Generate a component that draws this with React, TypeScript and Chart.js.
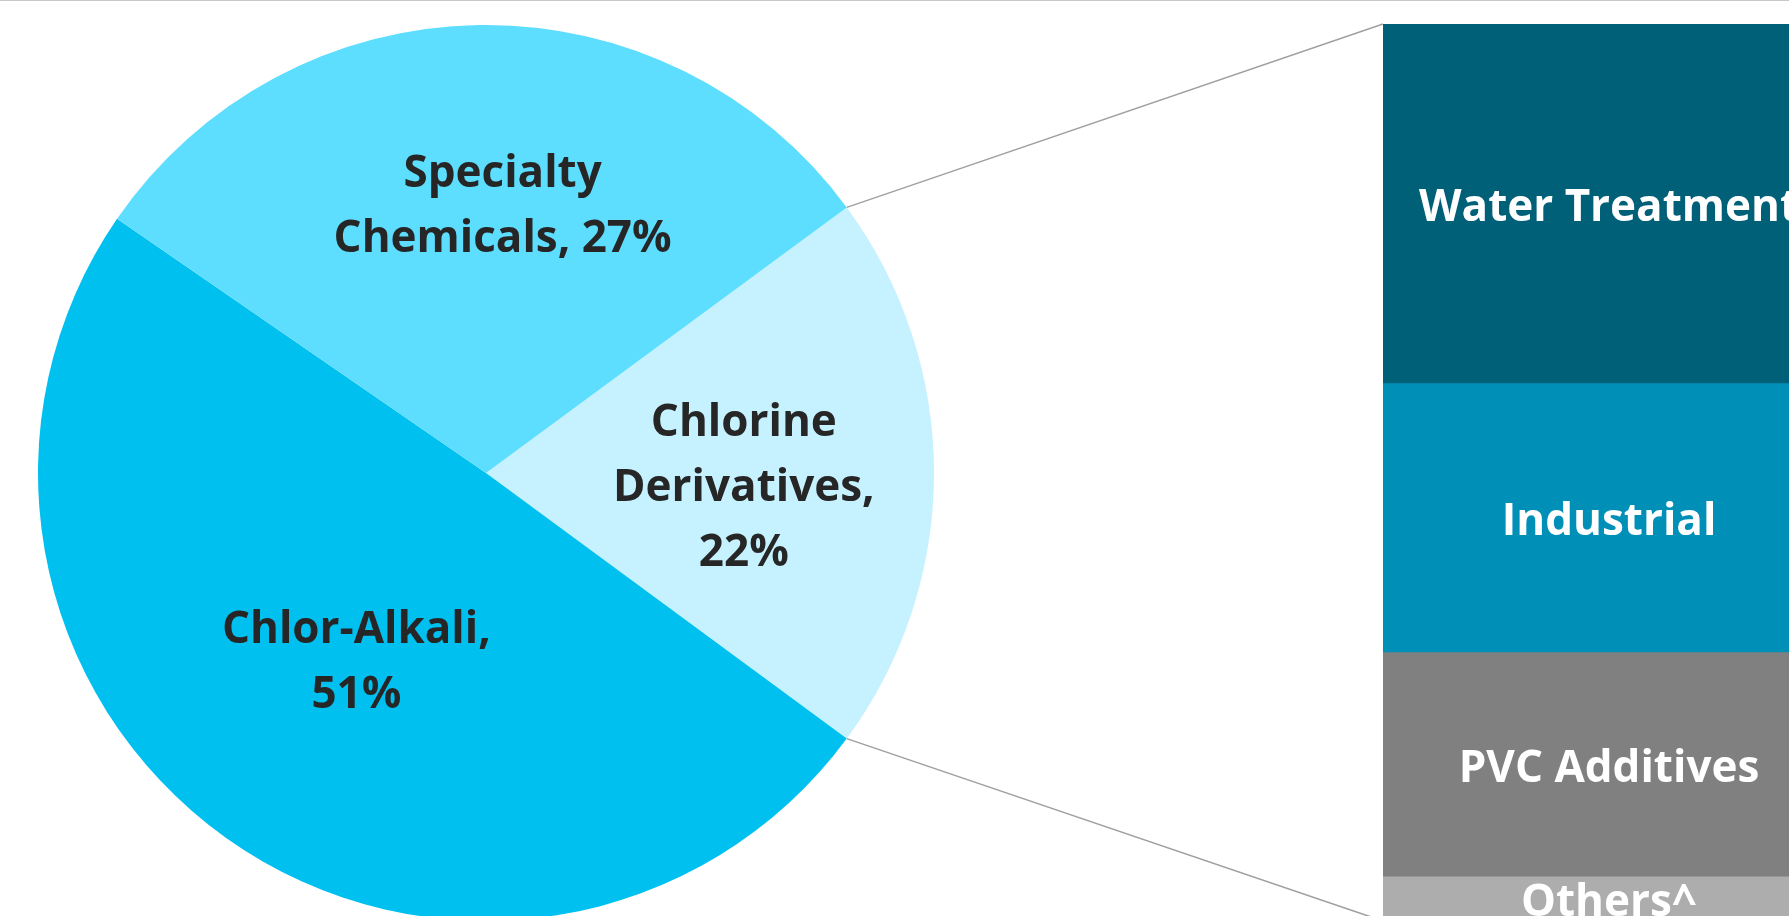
import React, { useEffect, useRef } from "react";
import { Chart, registerables } from "chart.js";

Chart.register(...registerables);

// ---- Pie (primary) data ----
const pieCategories = ["Chlorine Derivatives", "Chlor-Alkali", "Specialty Chemicals"];
const pieValues = [20.2, 49.5, 30.3];
const pieShareText = ["22%", "51%", "27%"];
const pieLabelLines = [
  ["Chlorine", "Derivatives,", pieShareText[0]],
  ["Chlor-Alkali,", pieShareText[1]],
  ["Specialty", "Chemicals, " + pieShareText[2]],
];
const pieColors = ["#C6F1FF", "#00C0F0", "#5DDEFF"];
// label anchor: fraction of radius, angle shift (deg) from slice middle
const pieLabelRadial = [0.576, 0.505, 0.607];
const pieLabelAngleShift = [2.4, -0.5, 4.4];

// ---- Bar (secondary, breakdown of Chlorine Derivatives) data ----
const barCategories = ["Water Treatment", "Industrial", "PVC Additives", "Others^"];
const barValues = [40, 30, 25, 5];
const barColors = ["#006078", "#0090B7", "#808080", "#ADADAD"];

const FONT = "'Open Sans', 'DejaVu Sans', sans-serif";
const FONT_SIZE = 44;
const TEXT_DY = 5;
const W = 1789;
const H = 916;
const PIE_LEFT = 38;
const PIE_TOP = 25;
const PIE_SIZE = 896;
const BAR_CANVAS_W = 1900;
const BAR_CANVAS_H = 940;

export default function App() {
  const pieRef = useRef<HTMLCanvasElement | null>(null);
  const barRef = useRef<HTMLCanvasElement | null>(null);

  useEffect(() => {
    if (!pieRef.current || !barRef.current) return;
    const pieTotal = pieValues.reduce((a, b) => a + b, 0);
    const rotation = 90 - (pieValues[0] / pieTotal) * 180;

    const pieLabelPlugin = {
      id: "pieLabels",
      afterDatasetsDraw(chart: any) {
        const ctx = chart.ctx;
        const meta = chart.getDatasetMeta(0);
        ctx.save();
        ctx.font = `bold ${FONT_SIZE}px ${FONT}`;
        ctx.fillStyle = "#262626";
        ctx.textAlign = "center";
        ctx.textBaseline = "middle";
        const lh = 65;
        meta.data.forEach((arc: any, i: number) => {
          const p = arc.getProps(["x", "y", "startAngle", "endAngle", "outerRadius"], true);
          const mid = (p.startAngle + p.endAngle) / 2 + (pieLabelAngleShift[i] * Math.PI) / 180;
          const r = p.outerRadius * pieLabelRadial[i];
          const cx = p.x + r * Math.cos(mid);
          const cy = p.y + r * Math.sin(mid) + TEXT_DY;
          const lines = pieLabelLines[i];
          lines.forEach((t, j) => {
            ctx.fillText(t, cx, cy + (j - (lines.length - 1) / 2) * lh);
          });
        });
        ctx.restore();
      },
    };

    const pieChart = new Chart(pieRef.current, {
      type: "pie",
      data: {
        labels: pieCategories,
        datasets: [
          {
            data: pieValues,
            backgroundColor: pieColors,
            borderWidth: 0,
          },
        ],
      },
      options: {
        responsive: false,
        animation: false,
        rotation,
        events: [],
        layout: { padding: 0 },
        plugins: { legend: { display: false }, tooltip: { enabled: false } },
      },
      plugins: [pieLabelPlugin],
    } as any);

    const barTotal = barValues.reduce((a, b) => a + b, 0);

    const barExtrasPlugin = {
      id: "barExtras",
      afterDatasetsDraw(chart: any) {
        const ctx = chart.ctx;
        // labels inside segments
        ctx.save();
        ctx.font = `bold ${FONT_SIZE}px ${FONT}`;
        ctx.fillStyle = "#FFFFFF";
        ctx.textAlign = "center";
        ctx.textBaseline = "middle";
        chart.data.datasets.forEach((ds: any, i: number) => {
          const el = chart.getDatasetMeta(i).data[0] as any;
          const p = el.getProps(["x", "y", "base"], true);
          ctx.fillText(ds.label, p.x, (p.y + p.base) / 2 + TEXT_DY);
        });
        ctx.restore();

        // connector lines from pie split slice to bar corners
        const arc = pieChart.getDatasetMeta(0).data[0] as any;
        const a = arc.getProps(["x", "y", "startAngle", "endAngle", "outerRadius"], true);
        const sx = PIE_LEFT + a.x + a.outerRadius * Math.cos(a.startAngle);
        const sy = PIE_TOP + a.y + a.outerRadius * Math.sin(a.startAngle);
        const ex = PIE_LEFT + a.x + a.outerRadius * Math.cos(a.endAngle);
        const ey = PIE_TOP + a.y + a.outerRadius * Math.sin(a.endAngle);
        const first = chart.getDatasetMeta(0).data[0] as any;
        const last = chart.getDatasetMeta(chart.data.datasets.length - 1).data[0] as any;
        const fp = first.getProps(["x", "y", "base", "width"], true);
        const lp = last.getProps(["x", "y", "base", "width"], true);
        const left = fp.x - fp.width / 2;
        const top = Math.min(fp.y, fp.base);
        const bottom = Math.max(lp.y, lp.base);
        ctx.save();
        ctx.strokeStyle = "#A0A0A0";
        ctx.lineWidth = 1.5;
        ctx.beginPath();
        ctx.moveTo(sx, sy);
        ctx.lineTo(left, top);
        ctx.moveTo(ex, ey);
        ctx.lineTo(left, bottom);
        ctx.stroke();
        ctx.restore();
      },
    };

    const barChart = new Chart(barRef.current, {
      type: "bar",
      data: {
        labels: [""],
        datasets: barCategories.map((c, i) => ({
          label: c,
          data: [barValues[i]],
          backgroundColor: barColors[i],
          borderWidth: 0,
          barPercentage: 1,
          categoryPercentage: 1,
        })),
      },
      options: {
        responsive: false,
        animation: false,
        events: [],
        layout: { padding: { left: 1383, right: BAR_CANVAS_W - 1835, top: 24, bottom: BAR_CANVAS_H - 921 } },
        scales: {
          x: { stacked: true, display: false },
          y: { stacked: true, display: false, min: 0, max: barTotal, reverse: true },
        },
        plugins: { legend: { display: false }, tooltip: { enabled: false } },
      },
      plugins: [barExtrasPlugin],
    } as any);

    return () => {
      barChart.destroy();
      pieChart.destroy();
    };
  }, []);

  return (
    <div
      style={{
        position: "absolute",
        left: 0,
        top: 0,
        width: W,
        height: H,
        overflow: "hidden",
        background: "#FFFFFF",
      }}
    >
      <canvas
        ref={pieRef}
        width={PIE_SIZE}
        height={PIE_SIZE}
        style={{ position: "absolute", left: PIE_LEFT, top: PIE_TOP, width: PIE_SIZE, height: PIE_SIZE }}
      />
      <canvas
        ref={barRef}
        width={BAR_CANVAS_W}
        height={BAR_CANVAS_H}
        style={{ position: "absolute", left: 0, top: 0, width: BAR_CANVAS_W, height: BAR_CANVAS_H }}
      />
      <div style={{ position: "absolute", left: 0, top: 0, width: W, height: 1, background: "#C8C8C8" }} />
    </div>
  );
}
